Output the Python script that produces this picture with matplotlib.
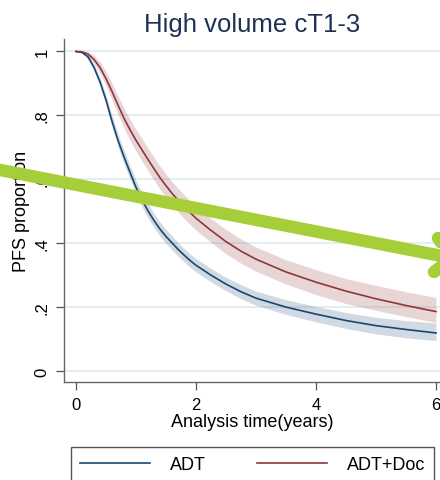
import matplotlib
matplotlib.use("Agg")
import matplotlib.pyplot as plt
from matplotlib.lines import Line2D

plt.rcParams['font.family'] = ['Liberation Sans', 'DejaVu Sans']

# ---- data ----
time = [0, .1, .2, .3, .4, .5, .6, .7, .8, .9, 1.0, 1.1, 1.2, 1.3, 1.4, 1.5, 1.6, 1.7, 1.8, 1.9,
        2.0, 2.25, 2.5, 2.75, 3.0, 3.5, 4.0, 4.5, 5.0, 5.5, 6.0]

adt_s = [1.0, .997, .983, .950, .905, .848, .782, .722, .670, .622, .575, .536, .501, .471, .444, .421,
         .401, .381, .363, .346, .331, .30, .272, .248, .228, .20, .178, .158, .142, .13, .119]
adt_lo = [1.0, .995, .977, .940, .892, .832, .764, .702, .649, .60, .553, .514, .479, .449, .422,
          .399, .379, .360, .342, .325, .310, .279, .251, .226, .206, .177, .154, .133, .116, .104, .095]
adt_hi = [1.0, .999, .989, .960, .918, .864, .800, .742, .691, .644, .597, .558, .523, .493, .466,
          .443, .423, .402, .384, .367, .352, .321, .293, .27, .25, .223, .202, .183, .168, .158, .15]

doc_s = [1.0, .999, .992, .975, .950, .915, .875, .832, .791, .755, .722, .692, .662, .633, .605, .58,
         .556, .535, .515, .496, .478, .44, .405, .375, .35, .31, .278, .25, .226, .205, .186]
doc_lo = [1.0, .997, .984, .962, .932, .893, .849, .803, .760, .722, .688, .657, .627, .597, .569,
          .544, .52, .498, .478, .459, .441, .403, .367, .337, .312, .272, .239, .211, .19, .17, .152]
doc_hi = [1.0, 1.0, .999, .988, .968, .937, .901, .861, .822, .788, .756, .727, .697, .669, .641,
          .616, .592, .572, .552, .533, .515, .477, .443, .413, .388, .348, .317, .289, .268, .248, .23]

x_ticks = [0, 2, 4, 6]
y_ticks = [0, .2, .4, .6, .8, 1]
y_ticklabels = ["0", ".2", ".4", ".6", ".8", "1"]
series_names = ["ADT", "ADT+Doc"]

NAVY = "#1a476f"
MAROON = "#90353b"
W, H = 440, 481

fig = plt.figure(figsize=(W / 100, H / 100), dpi=100)
fig.patch.set_facecolor("white")
ax = fig.add_axes([64 / W, 98 / H, 376 / W, 343 / H])

for yt in y_ticks:
    ax.axhline(yt, color="#e3eef1", lw=1.4, zorder=0)

ax.fill_between(time, adt_lo, adt_hi, color=NAVY, alpha=0.2, lw=0, zorder=1)
ax.fill_between(time, doc_lo, doc_hi, color=MAROON, alpha=0.2, lw=0, zorder=1)
ax.plot(time, adt_s, color=NAVY, lw=1.2, label=series_names[0], zorder=3)
ax.plot(time, doc_s, color=MAROON, lw=1.2, label=series_names[1], zorder=3)

ax.set_xlim(-0.2, 6.067)
ax.set_ylim(-0.0344, 1.039)
ax.set_xticks(x_ticks)
ax.set_xticklabels([str(v) for v in x_ticks])
ax.set_yticks(y_ticks)
ax.set_yticklabels(y_ticklabels, rotation=90, va="center")
ax.tick_params(axis="both", direction="out", length=5.5, width=0.9, color="#555555",
               labelsize=12, pad=5, labelcolor="black")
for s in ["top", "right"]:
    ax.spines[s].set_visible(False)
for s in ["left", "bottom"]:
    ax.spines[s].set_color("#666666")
    ax.spines[s].set_linewidth(1.0)

ax.set_xlabel("Analysis time(years)", fontsize=13, labelpad=1)
ax.set_ylabel("PFS proportion", fontsize=13, labelpad=3)
ax.set_title("High volume cT1-3", fontsize=18.5, color="#1e3054", pad=6)

leg = ax.legend(loc="upper left", bbox_to_anchor=(71 / W, 1 - 448 / H),
                bbox_transform=fig.transFigure, ncol=2, fontsize=13, frameon=True,
                fancybox=False, edgecolor="#555555", framealpha=1, borderaxespad=0,
                handlelength=3.9, handletextpad=1.1, columnspacing=2.8, borderpad=0.5)
leg.get_frame().set_linewidth(1.0)

# green hand-drawn arrow annotation over the figure
def fp(x, y):
    return x / W, 1 - y / H

GREEN = "#a6ce39"
for (x0, y0), (x1, y1) in [((-10, 169), (452, 259)), ((452, 259), (438, 239)),
                           ((452, 259), (434, 273))]:
    a, b = fp(x0, y0)
    c, d = fp(x1, y1)
    fig.add_artist(Line2D([a, c], [b, d], transform=fig.transFigure, color=GREEN,
                          lw=9, solid_capstyle="round", zorder=10))

fig.savefig("out.png", dpi=100)
